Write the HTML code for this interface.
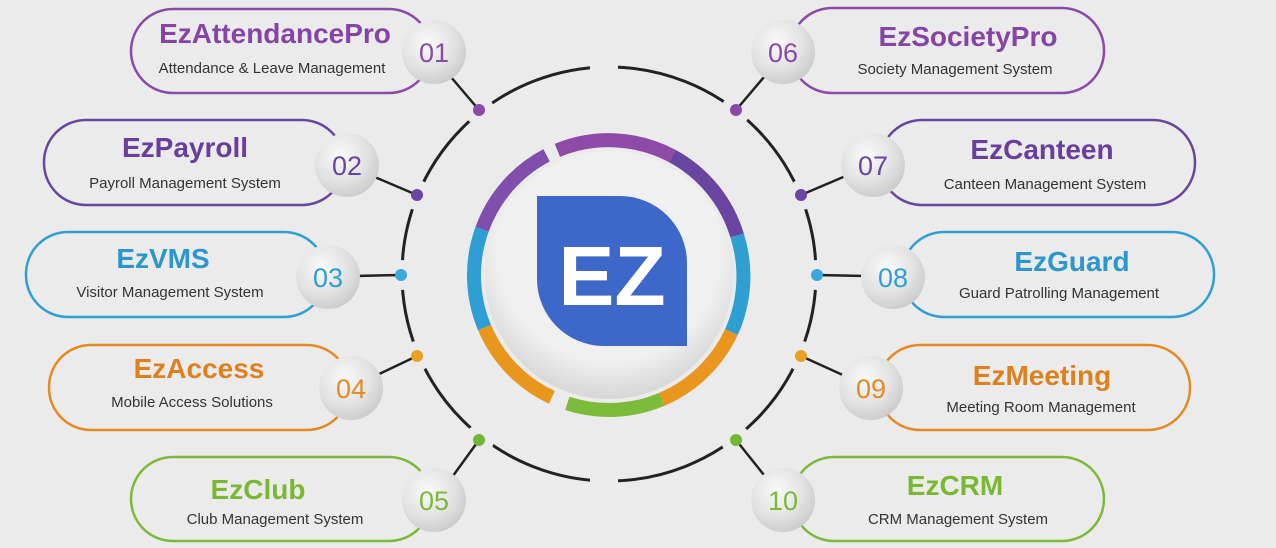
<!DOCTYPE html>
<html><head><meta charset="utf-8"><style>
html,body{margin:0;padding:0;background:#ebebeb;}
svg{display:block;font-family:"Liberation Sans",sans-serif;}
.t{font-weight:bold;font-size:28px;text-anchor:middle;}
.s{font-size:15px;fill:#333;text-anchor:middle;}
.n{font-size:27px;text-anchor:middle;}
</style></head><body>
<svg width="1276" height="548" viewBox="0 0 1276 548" xmlns="http://www.w3.org/2000/svg">
<defs>
<radialGradient id="g" cx="40%" cy="35%" r="70%"><stop offset="0" stop-color="#fafafa"/><stop offset="0.6" stop-color="#e2e2e2"/><stop offset="1" stop-color="#c9c9c9"/></radialGradient>
<radialGradient id="d" cx="50%" cy="40%" r="60%"><stop offset="0.75" stop-color="#f0f0f0"/><stop offset="1" stop-color="#d6d6d6"/></radialGradient>
</defs>
<rect width="1276" height="548" fill="#ebebeb"/>
<circle cx="609" cy="274" r="207" fill="none" stroke="#222" stroke-width="3"/>
<rect x="590" y="60" width="28" height="14" fill="#ebebeb"/>
<rect x="590" y="474" width="28" height="14" fill="#ebebeb"/>
<g fill="#ebebeb">
<circle cx="479" cy="110" r="15"/><circle cx="417" cy="195" r="15"/><circle cx="401" cy="275" r="15"/><circle cx="417" cy="356" r="15"/><circle cx="479" cy="440" r="15"/>
<circle cx="736" cy="110" r="15"/><circle cx="801" cy="195" r="15"/><circle cx="817" cy="275" r="15"/><circle cx="801" cy="356" r="15"/><circle cx="736" cy="440" r="15"/>
</g>
<g stroke="#222" stroke-width="2.5">
<line x1="479" y1="110" x2="445" y2="70"/><line x1="417" y1="195" x2="370" y2="175"/><line x1="401" y1="275" x2="355" y2="276"/><line x1="417" y1="356" x2="375" y2="376"/><line x1="479" y1="440" x2="450" y2="480"/>
<line x1="736" y1="110" x2="770" y2="70"/><line x1="801" y1="195" x2="848" y2="175"/><line x1="817" y1="275" x2="865" y2="276"/><line x1="801" y1="356" x2="845" y2="376"/><line x1="736" y1="440" x2="768" y2="480"/>
</g>
<g>
<circle cx="479" cy="110" r="6" fill="#8a4aa8"/><circle cx="417" cy="195" r="6" fill="#6e45a0"/><circle cx="401" cy="275" r="6" fill="#3aa7dd"/><circle cx="417" cy="356" r="6" fill="#eaa020"/><circle cx="479" cy="440" r="6" fill="#72b63a"/>
<circle cx="736" cy="110" r="6" fill="#8a4aa8"/><circle cx="801" cy="195" r="6" fill="#6e45a0"/><circle cx="817" cy="275" r="6" fill="#3aa7dd"/><circle cx="801" cy="356" r="6" fill="#eaa020"/><circle cx="736" cy="440" r="6" fill="#72b63a"/>
</g>
<circle cx="609" cy="275" r="124" fill="url(#d)"/>
<g fill="none" stroke-width="14">
<path d="M 482.1 229.2 A 135 135 0 0 1 546.6 155.3" stroke="#7f4fab"/>
<path d="M 557.4 150.4 A 135 135 0 0 1 672.3 156.0" stroke="#8d4aa6"/>
<path d="M 672.3 156.0 A 135 135 0 0 1 737.1 235.5" stroke="#6a45a0"/>
<path d="M 737.1 235.5 A 135 135 0 0 1 731.4 332.1" stroke="#2f9fd2"/>
<path d="M 731.4 332.1 A 135 135 0 0 1 661.8 399.3" stroke="#e9961e"/>
<path d="M 661.8 399.3 A 135 135 0 0 1 567.3 403.4" stroke="#7cbc3a"/>
<path d="M 551.9 397.4 A 135 135 0 0 1 484.5 327.5" stroke="#e8961c"/>
<path d="M 484.5 327.5 A 135 135 0 0 1 482.1 229.2" stroke="#2e9ed4"/>
</g>
<path d="M537 196 H620 A67 67 0 0 1 687 263 V346 H604 A67 67 0 0 1 537 279 Z" fill="#3d67c9"/>
<text x="612" y="305" font-size="84" font-weight="bold" fill="#fff" text-anchor="middle" font-family="Liberation Sans, sans-serif">EZ</text>
<g fill="none" stroke-width="2.5">
<rect x="131" y="9" width="300" height="84" rx="42" stroke="#8a4aa8"/>
<rect x="44" y="120" width="300" height="85" rx="42" stroke="#6a45a0"/>
<rect x="26" y="232" width="300" height="85" rx="42" stroke="#2f9fd2"/>
<rect x="49" y="345" width="300" height="85" rx="42" stroke="#e48a22"/>
<rect x="131" y="457" width="300" height="84" rx="42" stroke="#7cb83a"/>
<rect x="790" y="8" width="314" height="85" rx="42" stroke="#8a4aa8"/>
<rect x="880" y="120" width="315" height="85" rx="42" stroke="#6a45a0"/>
<rect x="902" y="232" width="312" height="85" rx="42" stroke="#2f9fd2"/>
<rect x="878" y="345" width="312" height="85" rx="42" stroke="#e48a22"/>
<rect x="792" y="457" width="312" height="84" rx="42" stroke="#7cb83a"/>
</g>
<g fill="url(#g)">
<circle cx="434" cy="52" r="32"/><circle cx="347" cy="165" r="32"/><circle cx="328" cy="277" r="32"/><circle cx="351" cy="388" r="32"/><circle cx="434" cy="500" r="32"/>
<circle cx="783" cy="52" r="32"/><circle cx="873" cy="165" r="32"/><circle cx="893" cy="277" r="32"/><circle cx="871" cy="388" r="32"/><circle cx="783" cy="500" r="32"/>
</g>
<text class="n" x="434" y="62" fill="#8a4aa8">01</text>
<text class="n" x="347" y="175" fill="#6a45a0">02</text>
<text class="n" x="328" y="287" fill="#2f9fd2">03</text>
<text class="n" x="351" y="398" fill="#e48a22">04</text>
<text class="n" x="434" y="510" fill="#7cb83a">05</text>
<text class="n" x="783" y="62" fill="#8a4aa8">06</text>
<text class="n" x="873" y="175" fill="#6a45a0">07</text>
<text class="n" x="893" y="287" fill="#2f9fd2">08</text>
<text class="n" x="871" y="398" fill="#e48a22">09</text>
<text class="n" x="783" y="510" fill="#7cb83a">10</text>
<text class="t" x="275" y="43" fill="#8544a6">EzAttendancePro</text>
<text class="s" x="272" y="73">Attendance &amp; Leave Management</text>
<text class="t" x="185" y="157" fill="#6a3e9c">EzPayroll</text>
<text class="s" x="185" y="188">Payroll Management System</text>
<text class="t" x="163" y="268" fill="#2b97cc">EzVMS</text>
<text class="s" x="170" y="297">Visitor Management System</text>
<text class="t" x="199" y="378" fill="#dd801e">EzAccess</text>
<text class="s" x="192" y="407">Mobile Access Solutions</text>
<text class="t" x="258" y="499" fill="#7ab833">EzClub</text>
<text class="s" x="275" y="524">Club Management System</text>
<text class="t" x="968" y="46" fill="#8544a6">EzSocietyPro</text>
<text class="s" x="955" y="74">Society Management System</text>
<text class="t" x="1042" y="159" fill="#6a3e9c">EzCanteen</text>
<text class="s" x="1045" y="189">Canteen Management System</text>
<text class="t" x="1072" y="271" fill="#2b97cc">EzGuard</text>
<text class="s" x="1059" y="298">Guard Patrolling Management</text>
<text class="t" x="1042" y="385" fill="#dd801e">EzMeeting</text>
<text class="s" x="1041" y="412">Meeting Room Management</text>
<text class="t" x="955" y="495" fill="#7ab833">EzCRM</text>
<text class="s" x="958" y="524">CRM Management System</text>
</svg>
</body></html>
